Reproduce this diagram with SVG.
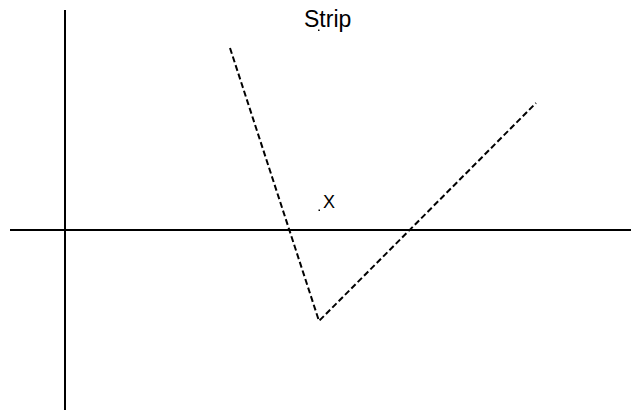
<svg xmlns="http://www.w3.org/2000/svg" width="631" height="412" viewBox="0 0 631 412">
<style>
.axis{stroke:#000;stroke-width:2;fill:none}
.strip{stroke:#000;stroke-width:2;fill:none;stroke-dasharray:6,3}
text{font-family:"Liberation Sans",Arial,sans-serif;fill:#000}
.dot{fill:#000}
</style>
<rect width="631" height="412" fill="#fff"/>
<g id="connectors">
<line class="axis" x1="10" y1="230" x2="631" y2="230"/>
<line class="axis" x1="65" y1="10" x2="65" y2="410"/>
<polyline class="strip" points="230,48 319,321 536,103"/>
</g>
<g id="label-strip">
<text x="304" y="27" font-size="23">Strip</text>
<rect class="dot" x="318" y="29.5" width="1.5" height="1.5"/>
</g>
<g id="label-x">
<text x="323" y="208" font-size="18">X</text>
<rect class="dot" x="318.5" y="209.5" width="1.5" height="1.5"/>
</g>
</svg>
